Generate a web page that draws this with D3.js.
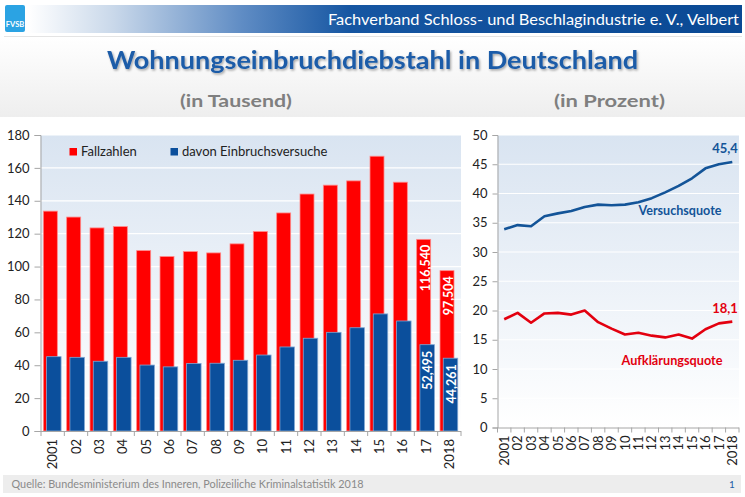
<!DOCTYPE html>
<html><head><meta charset="utf-8">
<script src="https://cdn.jsdelivr.net/npm/d3@7/dist/d3.min.js"></script>
<style>
html,body{margin:0;padding:0;background:#fff;}
svg{display:block;font-family:Lato,"Open Sans",sans-serif;}
</style></head>
<body>
<svg id="c" width="745" height="497"></svg>
<script>
// ---- data ----
const years = ["2001","02","03","04","05","06","07","08","09","10","11","12","13","14","15","16","17","2018"];
const fallzahlen = [133.7,130.1,123.5,124.3,109.7,106.1,109.1,108.3,113.8,121.3,132.6,144.1,149.5,152.1,167.1,151.3,116.54,97.504];
const versuche   = [45.2,44.8,42.4,44.8,40.1,39.0,41.0,41.2,43.0,46.2,51.1,56.4,60.0,62.8,71.2,66.9,52.495,44.261];
const versuchsquote    = [33.9,34.6,34.4,36.1,36.6,37.0,37.7,38.1,38.0,38.1,38.5,39.2,40.2,41.3,42.6,44.3,45.0,45.4];
const aufklaerungsquote = [18.5,19.6,17.9,19.5,19.6,19.3,20.0,18.0,16.9,15.9,16.2,15.7,15.4,15.9,15.2,16.8,17.8,18.1];
const leftTicks = [0,20,40,60,80,100,120,140,160,180];
const rightTicks = [0,5,10,15,20,25,30,35,40,45,50];
const barLabelsRed = {"17":"116,540","2018":"97,504"};
const barLabelsBlue = {"17":"52,495","2018":"44,261"};

const svg = d3.select("#c");
const defs = svg.append("defs");

// gradients
const hg = defs.append("linearGradient").attr("id","hg").attr("x1","0").attr("x2","1").attr("y1","0").attr("y2","0");
[[0,"#ffffff"],[0.12,"#c9d8ea"],[0.3,"#5f8cc4"],[0.45,"#1656a2"],[1,"#0a4994"]].forEach(s=>hg.append("stop").attr("offset",s[0]).attr("stop-color",s[1]));
const pg = defs.append("linearGradient").attr("id","pg").attr("x1","0").attr("x2","0").attr("y1","0").attr("y2","1");
[[0,"#d9e4f1"],[1,"#ffffff"]].forEach(s=>pg.append("stop").attr("offset",s[0]).attr("stop-color",s[1]));
const bg = defs.append("linearGradient").attr("id","bg").attr("x1","0").attr("x2","0").attr("y1","0").attr("y2","1");
[[0,"#ffffff"],[1,"#eeeeee"]].forEach(s=>bg.append("stop").attr("offset",s[0]).attr("stop-color",s[1]));
const sh = defs.append("filter").attr("id","sh").attr("x","-5%").attr("y","-20%").attr("width","110%").attr("height","150%");
sh.append("feDropShadow").attr("dx",1.2).attr("dy",1.5).attr("stdDeviation",0.9).attr("flood-color","#000").attr("flood-opacity",0.35);

// background band behind title
svg.append("rect").attr("x",0).attr("y",37).attr("width",745).attr("height",80).attr("fill","url(#bg)");
svg.append("line").attr("x1",4).attr("x2",742).attr("y1",36.5).attr("y2",36.5).attr("stroke","#e4e4e4");

// header
svg.append("rect").attr("x",28).attr("y",5).attr("width",714).attr("height",28).attr("fill","url(#hg)");
svg.append("rect").attr("x",5).attr("y",5).attr("width",20).attr("height",27).attr("rx",2).attr("fill","#2ba3e3");
svg.append("text").attr("x",15).attr("y",27).attr("text-anchor","middle").attr("fill","#fff")
  .attr("font-size",7.5).attr("font-weight","bold").text("FVSB");
svg.append("text").attr("x",739).attr("y",24.5).attr("text-anchor","end").attr("fill","#fff")
  .attr("font-size",15).attr("textLength",411).attr("lengthAdjust","spacingAndGlyphs")
  .text("Fachverband Schloss- und Beschlagindustrie e. V., Velbert");

// title
svg.append("text").attr("x",372.5).attr("y",68.5).attr("text-anchor","middle").attr("fill","#1c5ca8")
  .attr("font-size",24).attr("font-weight","bold").attr("filter","url(#sh)")
  .attr("textLength",531).attr("lengthAdjust","spacingAndGlyphs")
  .text("Wohnungseinbruchdiebstahl in Deutschland");
svg.append("text").attr("x",236).attr("y",106.5).attr("text-anchor","middle").attr("fill","#7f7f7f")
  .attr("font-size",17).attr("font-weight","bold").attr("textLength",112).attr("lengthAdjust","spacingAndGlyphs").text("(in Tausend)");
svg.append("text").attr("x",609.5).attr("y",106.5).attr("text-anchor","middle").attr("fill","#7f7f7f")
  .attr("font-size",17).attr("font-weight","bold").attr("textLength",111).attr("lengthAdjust","spacingAndGlyphs").text("(in Prozent)");

// footer
svg.append("rect").attr("x",3).attr("y",475).attr("width",738).attr("height",18).attr("fill","#ededed");
svg.append("text").attr("x",11.5).attr("y",487.5).attr("fill","#8a8a8a").attr("font-size",11)
  .attr("textLength",352).attr("lengthAdjust","spacingAndGlyphs")
  .text("Quelle:  Bundesministerium des Inneren, Polizeiliche Kriminalstatistik 2018");
svg.append("text").attr("x",732).attr("y",487.5).attr("fill","#1f5fa8").attr("font-size",10).attr("text-anchor","middle").text("1");

// ===== left chart =====
const L = {x0:40.5, x1:461, y0:431, y1:135};
const xL = d3.scaleBand().domain(years).range([L.x0+0.5, L.x1]).padding(0);
const yL = d3.scaleLinear().domain([0,180]).range([L.y0, L.y1]);
const gl = svg.append("g");
gl.append("rect").attr("x",L.x0).attr("y",L.y1).attr("width",L.x1-L.x0).attr("height",L.y0-L.y1).attr("fill","url(#pg)");
gl.selectAll("line.grid").data(leftTicks.slice(1)).join("line").attr("class","grid")
  .attr("x1",L.x0).attr("x2",L.x1).attr("y1",d=>yL(d)).attr("y2",d=>yL(d)).attr("stroke","#fff").attr("stroke-width",1.2);
const bw = xL.bandwidth();
gl.selectAll("rect.red").data(years).join("rect").attr("class","red")
  .attr("x",d=>xL(d)+bw*0.1).attr("width",bw*0.6)
  .attr("y",(d,i)=>yL(fallzahlen[i])).attr("height",(d,i)=>yL(0)-yL(fallzahlen[i]))
  .attr("fill","#ff0000").attr("stroke","#ff8a8a").attr("stroke-width",0.8);
gl.selectAll("rect.blue").data(years).join("rect").attr("class","blue")
  .attr("x",d=>xL(d)+bw*0.24).attr("width",bw*0.62)
  .attr("y",(d,i)=>yL(versuche[i])).attr("height",(d,i)=>yL(0)-yL(versuche[i]))
  .attr("fill","#0b4f9c").attr("stroke","#7fa6d3").attr("stroke-width",0.8);
// bar labels
years.forEach((d,i)=>{
  if(barLabelsRed[d]){
    const cx = xL(d)+bw*0.1+bw*0.3+1.5, y = yL(fallzahlen[i])+5.5;
    gl.append("text").attr("transform",`translate(${cx},${y}) rotate(-90)`).attr("text-anchor","end")
      .attr("dy","0.36em").attr("fill","#fff").attr("font-size",12.5).attr("font-weight","bold").text(barLabelsRed[d]);
  }
  if(barLabelsBlue[d]){
    const cx = xL(d)+bw*0.24+bw*0.31+0.5, y = yL(versuche[i])+6;
    gl.append("text").attr("transform",`translate(${cx},${y}) rotate(-90)`).attr("text-anchor","end")
      .attr("dy","0.36em").attr("fill","#fff").attr("font-size",12.5).attr("font-weight","bold").text(barLabelsBlue[d]);
  }
});
// y axis
const ayL = gl.append("g").attr("transform",`translate(${L.x0},0)`)
  .call(d3.axisLeft(yL).tickValues(leftTicks).tickSize(6).tickPadding(5));
ayL.select(".domain").attr("stroke","#a6a6a6");
ayL.selectAll(".tick line").attr("stroke","#a6a6a6");
ayL.selectAll(".tick text").attr("fill","#222").attr("font-size",13).attr("font-family","Lato");
// x axis
gl.append("line").attr("x1",L.x0).attr("x2",L.x1).attr("y1",L.y0+0.5).attr("y2",L.y0+0.5).attr("stroke","#a6a6a6");
const bounds = years.map(d=>xL(d)).concat([L.x1]);
gl.selectAll("line.xt").data(bounds).join("line").attr("class","xt")
  .attr("x1",d=>d).attr("x2",d=>d).attr("y1",L.y0).attr("y2",L.y0+5).attr("stroke","#a6a6a6");
gl.selectAll("text.xl").data(years).join("text").attr("class","xl")
  .attr("transform",d=>`translate(${xL(d)+bw/2},${L.y0+8}) rotate(-90)`)
  .attr("text-anchor","end").attr("dy","0.36em").attr("fill","#222").attr("font-size",13).text(d=>d);
// legend
gl.append("rect").attr("x",69.5).attr("y",148).attr("width",7.5).attr("height",7.5).attr("fill","#ff0000");
gl.append("text").attr("x",81).attr("y",156).attr("font-size",13).attr("fill","#222").text("Fallzahlen");
gl.append("rect").attr("x",170.5).attr("y",148).attr("width",7.5).attr("height",7.5).attr("fill","#0b4f9c");
gl.append("text").attr("x",182).attr("y",156).attr("font-size",13).attr("fill","#222").text("davon Einbruchsversuche");

// ===== right chart =====
const R = {x0:497.5, x1:739, y0:427.5, y1:135};
const xR = d3.scalePoint().domain(years).range([R.x0, R.x1]).padding(0.5);
const yR = d3.scaleLinear().domain([0,50]).range([R.y0, R.y1]);
const gr = svg.append("g");
gr.append("rect").attr("x",R.x0).attr("y",R.y1).attr("width",R.x1-R.x0).attr("height",R.y0-R.y1).attr("fill","url(#pg)");
gr.selectAll("line.grid").data(rightTicks.slice(1)).join("line").attr("class","grid")
  .attr("x1",R.x0).attr("x2",R.x1).attr("y1",d=>yR(d)).attr("y2",d=>yR(d)).attr("stroke","#fff").attr("stroke-width",1.2);
const line = d3.line().x((v,i)=>xR(years[i])).y(v=>yR(v));
gr.append("path").datum(versuchsquote).attr("d",line).attr("fill","none").attr("stroke","#135498").attr("stroke-width",2.6).attr("stroke-linejoin","round");
gr.append("path").datum(aufklaerungsquote).attr("d",line).attr("fill","none").attr("stroke","#e3000f").attr("stroke-width",2.6).attr("stroke-linejoin","round");
const ayR = gr.append("g").attr("transform",`translate(${R.x0},0)`)
  .call(d3.axisLeft(yR).tickValues(rightTicks).tickSize(5).tickPadding(5));
ayR.select(".domain").attr("stroke","#a6a6a6");
ayR.selectAll(".tick line").attr("stroke","#a6a6a6");
ayR.selectAll(".tick text").attr("fill","#222").attr("font-size",13).attr("font-family","Lato");
gr.append("line").attr("x1",R.x0).attr("x2",R.x1).attr("y1",R.y0+0.5).attr("y2",R.y0+0.5).attr("stroke","#a6a6a6");
const step = xR.step();
const rb = years.map(d=>xR(d)-step/2).concat([R.x1]);
gr.selectAll("line.xt").data(rb).join("line").attr("class","xt")
  .attr("x1",d=>d).attr("x2",d=>d).attr("y1",R.y0).attr("y2",R.y0+5).attr("stroke","#a6a6a6");
gr.selectAll("text.xl").data(years).join("text").attr("class","xl")
  .attr("transform",d=>`translate(${xR(d)},${R.y0+8}) rotate(-90)`)
  .attr("text-anchor","end").attr("dy","0.36em").attr("fill","#222").attr("font-size",13).text(d=>d);
// line labels
gr.append("text").attr("x",725).attr("y",153).attr("text-anchor","middle").attr("fill","#135498").attr("font-size",13).attr("font-weight","bold").text("45,4");
gr.append("text").attr("x",680).attr("y",215).attr("text-anchor","middle").attr("fill","#135498").attr("font-size",13).attr("font-weight","bold").attr("textLength",83).attr("lengthAdjust","spacingAndGlyphs").text("Versuchsquote");
gr.append("text").attr("x",725).attr("y",313).attr("text-anchor","middle").attr("fill","#e3000f").attr("font-size",13).attr("font-weight","bold").text("18,1");
gr.append("text").attr("x",672).attr("y",365).attr("text-anchor","middle").attr("fill","#e3000f").attr("font-size",13).attr("font-weight","bold").attr("textLength",101).attr("lengthAdjust","spacingAndGlyphs").text("Aufklärungsquote");
</script>
</body></html>
